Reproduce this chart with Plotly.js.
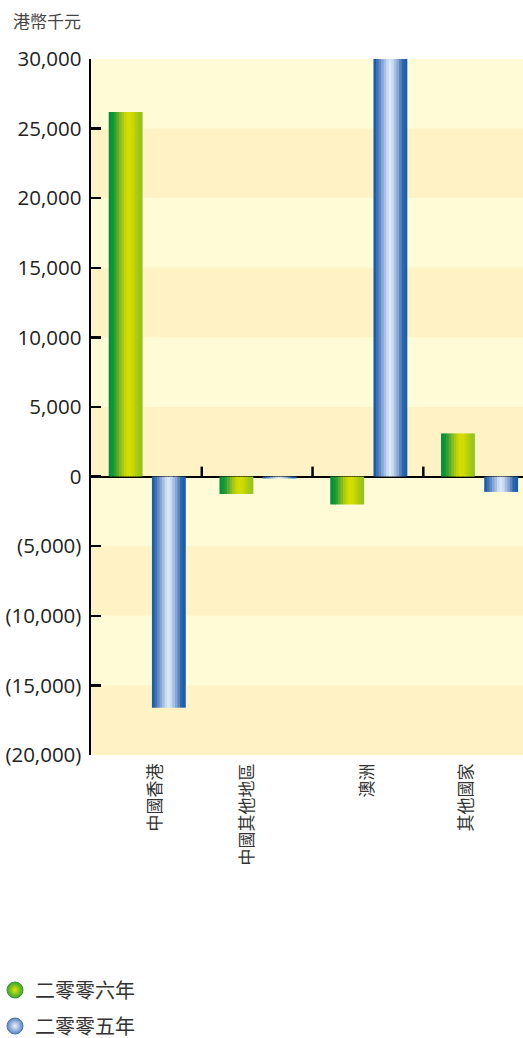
<!DOCTYPE html>
<html>
<head>
<meta charset="utf-8">
<script src="https://cdn.plot.ly/plotly-3.0.1.min.js"></script>
<style>html,body{margin:0;padding:0;background:#fff;}#chart{width:523px;height:1038px;}</style>
</head>
<body>
<div id="chart"></div>
<script>
// ---- data ----
var categories = ['中國香港', '中國其他地區', '澳洲', '其他國家'];
var series2006 = [26200, -1250, -2000, 3100];
var series2005 = [-16600, -130, 30000, -1100];
var seriesNames = ['二零零六年', '二零零五年'];
var yTickVals = [30000, 25000, 20000, 15000, 10000, 5000, 0, -5000, -10000, -15000, -20000];
var yTickText = ['30,000', '25,000', '20,000', '15,000', '10,000', '5,000', '0', '(5,000)', '(10,000)', '(15,000)', '(20,000)'];
var yUnit = '港幣千元';

// ---- styles ----
var greenStripes = ['#00913a', '#0f9637', '#2f9f32', '#5aad2b', '#84bb22', '#a8c814', '#c6d400', '#d4dc00', '#d2dc00', '#c8d700', '#b5d00a', '#a2ca14', '#95c41e'];
var blueStripes = ['#1a5ea6', '#3c72b6', '#6289c3', '#87a5d2', '#a7bfe0', '#c8dbf0', '#dae9f9', '#c8dbf0', '#a7bfe0', '#87a5d2', '#5a86c2', '#2b68b0', '#1d60a8'];
var labelShift = [0.08, -0.085, 0, -0.11]; // small horizontal nudges of the category labels, as in the source
var FONT = 'Open Sans, Noto Sans CJK TC, sans-serif';
var barW = 0.30;

function stripedBars(values, stripes, baseOffset) {
  var n = stripes.length, w = barW / n, out = [];
  for (var k = 0; k < n; k++) {
    out.push({
      type: 'bar', x: categories, y: values,
      width: w * 1.25, offset: baseOffset + k * w,
      marker: {color: stripes[k], line: {width: 0}},
      showlegend: false, hoverinfo: 'skip'
    });
  }
  return out;
}

var traces = [].concat(
  stripedBars(series2006, greenStripes, -0.34),
  stripedBars(series2005, blueStripes, 0.05)
);
traces.push({
  type: 'scatter', mode: 'markers', x: [categories[0]], y: [null], name: seriesNames[0],
  legend: 'legend',
  marker: {symbol: 'circle', size: 16, color: '#3aa535', gradient: {type: 'radial', color: '#e0e600'}, line: {color: '#2e9a35', width: 1}}
});
traces.push({
  type: 'scatter', mode: 'markers', x: [categories[0]], y: [null], name: seriesNames[1],
  legend: 'legend2',
  marker: {symbol: 'circle', size: 16, color: '#5a86c2', gradient: {type: 'radial', color: '#eaf2fc'}, line: {color: '#4a76b4', width: 1}}
});

// background bands
var shapes = [];
for (var i = 0; i < yTickVals.length - 1; i++) {
  var bandTop = yTickVals[i], bandBot = yTickVals[i + 1];
  shapes.push({type: 'rect', xref: 'paper', yref: 'y', x0: 0, x1: 1, y0: bandBot, y1: bandTop,
    fillcolor: (i % 2 === 0) ? '#fffbd7' : '#fff3c5', line: {width: 0}, layer: 'below'});
}
// category boundary ticks on the zero line
for (var c = 1; c < categories.length; c++) {
  shapes.push({type: 'line', xref: 'x', yref: 'y', ysizemode: 'pixel', yanchor: 0,
    x0: c - 0.5, x1: c - 0.5, y0: 0, y1: 10, line: {color: '#000', width: 2.5}});
}

var xTickVals = categories.map(function (cat, idx) { return idx + labelShift[idx]; });

var plotW = 523 - 91, plotH = 755 - 59;
var layout = {
  width: 523, height: 1038,
  margin: {l: 91, r: 0, t: 59, b: 283, autoexpand: false},
  paper_bgcolor: '#ffffff', plot_bgcolor: '#fffbd7',
  barmode: 'overlay',
  font: {family: FONT, color: '#222'},
  title: {text: yUnit, x: 13 / 523, xanchor: 'left',
    y: 1 - 22 / 1038, yanchor: 'middle', font: {size: 17, color: '#444', family: FONT}},
  xaxis: {
    type: 'category', range: [-0.5, 3.4], showgrid: false, zeroline: false, showline: false,
    tickmode: 'array', tickvals: xTickVals, ticktext: categories,
    ticks: '', tickangle: -90, ticklabelstandoff: 4,
    tickfont: {size: 17, color: '#333', family: FONT}, fixedrange: true
  },
  yaxis: {
    range: [-20000, 30000], tickmode: 'array', tickvals: yTickVals, ticktext: yTickText,
    showgrid: false, zeroline: true, zerolinecolor: '#000', zerolinewidth: 2,
    showline: true, linecolor: '#000', linewidth: 2.5,
    ticks: 'inside', ticklen: 10, tickwidth: 2.5, tickcolor: '#000', ticklabelstandoff: 3,
    tickfont: {size: 20.5, color: '#222', family: FONT}, fixedrange: true
  },
  shapes: shapes,
  showlegend: true,
  legend: {x: -96 / plotW, xanchor: 'left', y: (755 - 990) / plotH, yanchor: 'middle',
    font: {size: 20, color: '#333', family: FONT}, bgcolor: 'rgba(0,0,0,0)'},
  legend2: {x: -96 / plotW, xanchor: 'left', y: (755 - 1026) / plotH, yanchor: 'middle',
    font: {size: 20, color: '#333', family: FONT}, bgcolor: 'rgba(0,0,0,0)'}
};

Plotly.newPlot('chart', traces, layout, {displayModeBar: false, staticPlot: true});
</script>
</body>
</html>
